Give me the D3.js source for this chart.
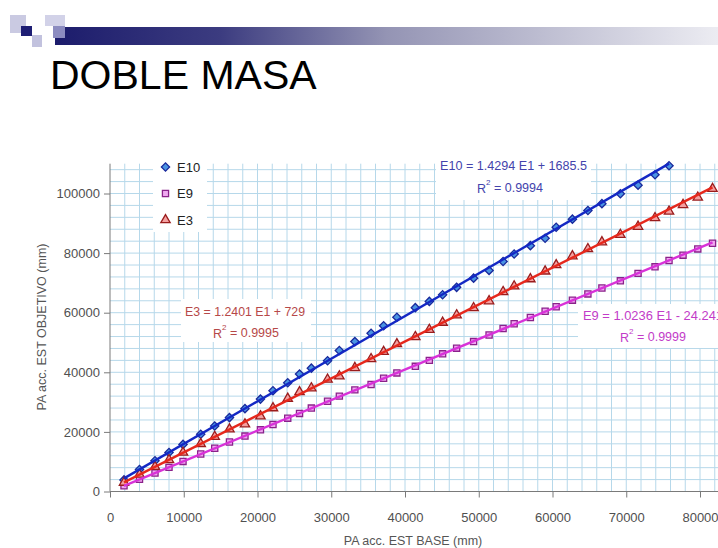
<!DOCTYPE html>
<html>
<head>
<meta charset="utf-8">
<script src="https://cdn.jsdelivr.net/npm/d3@7"></script>
<style>
  html, body { margin: 0; padding: 0; background: #fff; }
  svg { display: block; font-family: "Liberation Sans", Arial, sans-serif; }
</style>
</head>
<body>
<svg id="chart" width="718" height="548"></svg>
<script>
// Accumulated precipitation at the base station (E1), shared by all series
const baseE1 = [1900, 4000, 6100, 8000, 9900, 12300, 14200, 16200, 18300, 20400,
  22100, 24100, 25700, 27300, 29500, 31100, 33200, 35400, 37100, 38900,
  41400, 43300, 45100, 47000, 49300, 51400, 53300, 54800, 57000, 59000,
  60500, 62700, 64800, 66700, 69200, 71600, 73900, 75800, 77700, 79700, 81700];

// Accumulated precipitation at the target stations
const valuesE10 = [3900, 7400, 10300, 13100, 15800, 19200, 22000, 24800, 27800, 31000,
  33800, 36500, 39400, 41400, 43900, 47300, 50300, 53100, 55600, 58500,
  61700, 63800, 66000, 68500, 71600, 74200, 77200, 79700, 82500, 85000,
  88700, 91400, 94300, 96600, 99900, 102800, 106300, 109300];
const valuesE9 = [1900, 4100, 6200, 8100, 10100, 12600, 14500, 16600, 18600, 20700,
  22500, 24600, 26200, 28000, 30300, 32000, 34100, 35900, 38000, 39800,
  42000, 44000, 46200, 48100, 50300, 52500, 54700, 56300, 58400, 60500,
  62000, 64200, 66300, 68300, 70700, 73200, 75400, 77500, 79300, 81400, 83300];
const valuesE3 = [3000, 5700, 8300, 10600, 13100, 16000, 18400, 20900, 22600, 25300,
  28000, 31200, 33400, 34700, 37600, 38700, 41500, 44500, 46900, 49500,
  51900, 54300, 56700, 59200, 61600, 63900, 67000, 68900, 71300, 73900,
  76000, 79000, 81400, 83700, 86200, 88900, 91800, 94000, 96200, 98700, 101600];

// Linear trend lines: slope, intercept, R²
const seriesNames = ["E10", "E9", "E3"];
const trendSlopes = [1.4294, 1.0236, 1.2401];
const trendIntercepts = [1685.5, -24.241, 729];
const trendR2 = ["0.9994", "0.9999", "0.9995"];
const trendLabels = ["E10 = 1.4294 E1 + 1685.5", "E9 = 1.0236 E1 - 24.241", "E3 = 1.2401 E1 + 729"];

const xTicks = [0, 10000, 20000, 30000, 40000, 50000, 60000, 70000, 80000];
const yTicks = [0, 20000, 40000, 60000, 80000, 100000];

const svg = d3.select("#chart");

// ---------- slide header ----------
const defs = svg.append("defs");
const grad = defs.append("linearGradient").attr("id", "barGrad")
  .attr("x1", "0%").attr("x2", "100%").attr("y1", "0%").attr("y2", "0%");
grad.append("stop").attr("offset", "0%").attr("stop-color", "#1c1c6c");
grad.append("stop").attr("offset", "25%").attr("stop-color", "#3c3c80");
grad.append("stop").attr("offset", "50%").attr("stop-color", "#9494b4");
grad.append("stop").attr("offset", "100%").attr("stop-color", "#ececf2");

svg.append("rect").attr("x", 55).attr("y", 27).attr("width", 663).attr("height", 18)
  .attr("fill", "url(#barGrad)");
const logo = [
  {x: 10, y: 15, w: 16, h: 18, c: "#cacae2"},
  {x: 45, y: 15, w: 20, h: 11, c: "#d2d2e8"},
  {x: 53, y: 26, w: 12, h: 12, c: "#8c8cc0"},
  {x: 32, y: 35, w: 10, h: 12, c: "#c2c2de"},
  {x: 21, y: 26, w: 11, h: 10, c: "#1e1e74"}
];
svg.selectAll("rect.logo").data(logo).enter().append("rect")
  .attr("class", "logo")
  .attr("x", d => d.x).attr("y", d => d.y).attr("width", d => d.w).attr("height", d => d.h)
  .attr("fill", d => d.c);

svg.append("text").attr("x", 50).attr("y", 89)
  .attr("font-size", 41).attr("fill", "#000").text("DOBLE MASA");

// ---------- scales ----------
const x = d3.scaleLinear().domain([0, 80000]).range([110, 700]);
const y = d3.scaleLinear().domain([0, 100000]).range([491.5, 193.5]);
const xMax = 84000, yMax = 110000;

// ---------- grid ----------
const grid = svg.append("g").attr("stroke", "#b6d8ea").attr("stroke-width", 1);
grid.selectAll("line.v").data(d3.range(2000, xMax + 1, 2000)).enter().append("line")
  .attr("x1", d => x(d)).attr("x2", d => x(d))
  .attr("y1", y(0)).attr("y2", y(yMax));
grid.selectAll("line.h").data(d3.range(4000, yMax, 4000)).enter().append("line")
  .attr("x1", x(0)).attr("x2", x(xMax))
  .attr("y1", d => y(d)).attr("y2", d => y(d));

// ---------- axes ----------
const axisColor = "#7a7a7a";
const yAxis = svg.append("g").attr("transform", `translate(${x(0)},0)`)
  .call(d3.axisLeft(y).tickValues(yTicks).tickSize(6).tickPadding(4).tickFormat(d => String(d)));
const xAxis = svg.append("g").attr("transform", `translate(0,${y(0)})`)
  .call(d3.axisBottom(x).tickValues(xTicks).tickSize(6).tickPadding(15).tickFormat(d => String(d)));
[xAxis, yAxis].forEach(g => {
  g.select(".domain").remove();
  g.selectAll(".tick line").attr("stroke", axisColor);
  g.selectAll(".tick text").attr("font-size", 13).attr("fill", "#505050")
    .attr("font-family", "'Liberation Sans', Arial, sans-serif");
});
svg.append("line").attr("x1", x(0)).attr("x2", x(0)).attr("y1", y(0)).attr("y2", y(yMax))
  .attr("stroke", axisColor);
svg.append("line").attr("x1", x(0)).attr("x2", x(xMax)).attr("y1", y(0)).attr("y2", y(0))
  .attr("stroke", axisColor);

svg.append("text").attr("x", 413).attr("y", 545).attr("text-anchor", "middle")
  .attr("font-size", 12.5).attr("fill", "#555").text("PA acc. EST BASE (mm)");
svg.append("text").attr("transform", "translate(46,327) rotate(-90)").attr("text-anchor", "middle")
  .attr("font-size", 12.5).attr("fill", "#555").text("PA acc. EST OBJETIVO (mm)");

// ---------- series ----------
const styles = [
  {line: "#1428c4", fill: "#4a94e2", stroke: "#1a2a9c", symbol: d3.symbolSquare, size: 34, rot: 45},
  {line: "#d832d8", fill: "#f0a8f0", stroke: "#8a228a", symbol: d3.symbolSquare, size: 38, rot: 0},
  {line: "#e6281c", fill: "#f4a0a0", stroke: "#9a1c1c", symbol: d3.symbolTriangle, size: 38, rot: 0}
];
const seriesValues = [valuesE10, valuesE9, valuesE3];
const labelColors = ["#4343ac", "#c23cc8", "#b64848"];

const markerLayer = svg.append("g");
const lineLayer = svg.append("g");
seriesValues.forEach((vals, i) => {
  const pts = vals.map((v, j) => [baseE1[j], v]);
  const st = styles[i];
  const sym = d3.symbol().type(st.symbol).size(st.size);
  markerLayer.selectAll(null).data(pts).enter().append("path")
    .attr("d", sym)
    .attr("transform", d => `translate(${x(d[0])},${y(d[1])}) rotate(${st.rot})`)
    .attr("fill", st.fill).attr("stroke", st.stroke).attr("stroke-width", 1.3);

  // trend line over the observed range
  const x0 = pts[0][0], x1 = pts[pts.length - 1][0];
  const ends = [x0, x1].map(e => [e, trendSlopes[i] * e + trendIntercepts[i]]);
  lineLayer.append("path")
    .attr("d", d3.line().x(d => x(d[0])).y(d => y(d[1]))(ends))
    .attr("fill", "none").attr("stroke", st.line).attr("stroke-width", 2.4);
});

// ---------- legend ----------
svg.append("rect").attr("x", 153).attr("y", 154).attr("width", 54).attr("height", 78).attr("fill", "#fff");
seriesNames.forEach((name, i) => {
  const st = styles[i];
  const cy = 167 + i * 26.5;
  svg.append("path").attr("d", d3.symbol().type(st.symbol).size(st.size)())
    .attr("transform", `translate(165.5,${cy}) rotate(${st.rot})`)
    .attr("fill", st.fill).attr("stroke", st.stroke).attr("stroke-width", 1.3);
  svg.append("text").attr("x", 177).attr("y", cy).attr("dy", "0.36em")
    .attr("font-size", 13).attr("fill", "#222").text(name);
});

// ---------- trend equation labels ----------
const eqBoxes = [
  {bx: 436, by: 154, bw: 155, bh: 46, tx: 440, ty: 165, rx: 477, ry: 188, tl: 147},
  {bx: 578, by: 304, bw: 150, bh: 44, tx: 583, ty: 315, rx: 620, ry: 337, tl: 140},
  {bx: 181, by: 299, bw: 130, bh: 43, tx: 185, ty: 311, rx: 213, ry: 333, tl: 120}
];
eqBoxes.forEach((b, i) => {
  svg.append("rect").attr("x", b.bx).attr("y", b.by).attr("width", b.bw).attr("height", b.bh)
    .attr("fill", "#fff");
  svg.append("text").attr("x", b.tx).attr("y", b.ty).attr("dy", "0.36em")
    .attr("font-size", 12.5).attr("fill", labelColors[i])
    .attr("textLength", b.tl).attr("lengthAdjust", "spacingAndGlyphs")
    .text(trendLabels[i]);
  const r = svg.append("text").attr("x", b.rx).attr("y", b.ry).attr("dy", "0.36em")
    .attr("font-size", 12.5).attr("fill", labelColors[i]);
  r.append("tspan").text("R");
  r.append("tspan").attr("font-size", 8).attr("dy", "-0.9em").text("2");
  r.append("tspan").attr("dy", "0.55em").text(" = " + trendR2[i]);
});
</script>
</body>
</html>
